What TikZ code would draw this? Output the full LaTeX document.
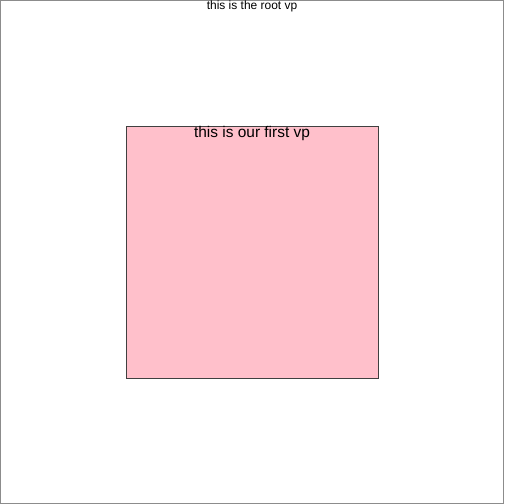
\documentclass[tikz,border=0pt]{standalone}
\usepackage{fontspec}
\setmainfont{Liberation Sans}
\usetikzlibrary{positioning}
\definecolor{vppink}{HTML}{FFC0CB}

\begin{document}
\begin{tikzpicture}[
  x=1bp, y=1bp,
  rootvp/.style={rectangle, draw=black!45, line width=0.8bp},
  firstvp/.style={rectangle, draw=black!75, fill=vppink, line width=0.8bp, minimum width=252bp, minimum height=252bp, inner sep=0pt},
  vp label/.style={inner sep=0pt, anchor=north, text=black}
]
  % root viewport covers the whole page
  \draw[rootvp] (0.4,0.4) rectangle (503.6,503.6);
  \useasboundingbox (0,0) rectangle (504,504);
  \node[vp label, font=\fontsize{12}{14}\selectfont] (roottitle) at (252, 503) {this is the root vp};
  % first viewport, centred, half the size
  \node[firstvp] (first) at (252, 252) {};
  \node[vp label, font=\fontsize{15.5}{18}\selectfont] (firsttitle) at ([yshift=-1bp]first.north) {this is our first vp};
\end{tikzpicture}
\end{document}
